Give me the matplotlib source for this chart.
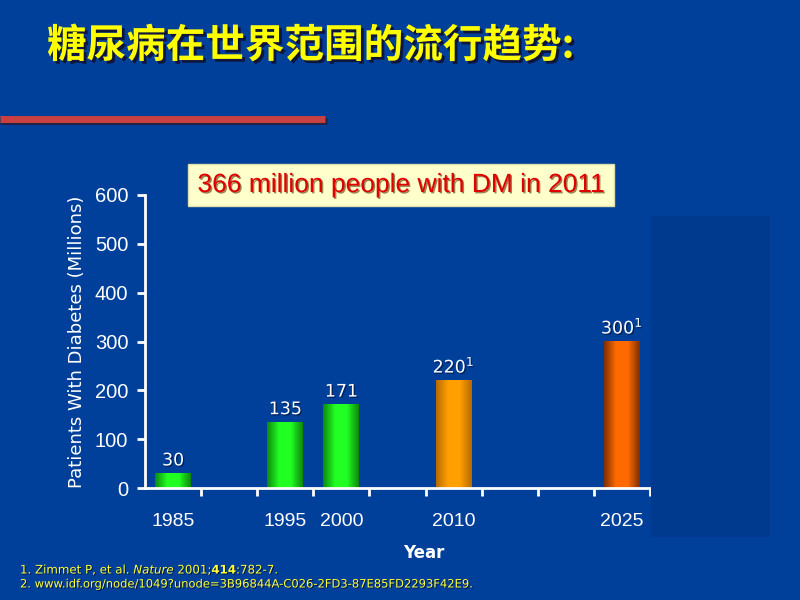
import numpy as np
import matplotlib.pyplot as plt
import matplotlib.patheffects as pe
from matplotlib.patches import Rectangle
from matplotlib.colors import LinearSegmentedColormap

# data
slot_years = [1985, 1990, 1995, 2000, 2005, 2010, 2015, 2020, 2025]
bar_years = [1985, 1995, 2000, 2010, 2025]
patients = [30, 135, 171, 220, 300]
value_labels = ['30', '135', '171', '220$^{1}$', '300$^{1}$']
bar_colors = [('#0d8a0d', '#22ff22'), ('#0d8a0d', '#22ff22'), ('#0d8a0d', '#22ff22'),
              ('#b86a00', '#ffa000'), ('#803000', '#ff6a00')]
y_ticks = [0, 100, 200, 300, 400, 500, 600]

bg = '#00409a'
fig = plt.figure(figsize=(8, 6), dpi=100, facecolor=bg)

# darker panel on the right
fig.patches.append(Rectangle((651 / 800, 1 - 537 / 600), 119 / 800, 321 / 600,
                             transform=fig.transFigure, facecolor='#003a8e', edgecolor='none', zorder=0))

# title
fig.text(47 / 800, 1 - 46 / 600, '糖尿病在世界范围的流行趋势:', color='#ffff00', fontsize=28.5,
         fontweight='bold', family=['Noto Sans CJK SC', 'DejaVu Sans'], va='center', ha='left',
         path_effects=[pe.withSimplePatchShadow(offset=(2, -2), shadow_rgbFace='#111133', alpha=0.9)])

# red divider
fig.add_artist(plt.Line2D([0, 327 / 800], [1 - 121 / 600, 1 - 121 / 600], color='#222244', lw=5,
                          transform=fig.transFigure, solid_capstyle='butt'))
fig.add_artist(plt.Line2D([0, 325 / 800], [1 - 119 / 600, 1 - 119 / 600], color='#c94040', lw=5,
                          transform=fig.transFigure, solid_capstyle='butt'))

ax = fig.add_axes([145 / 800, 1 - 488 / 600, 505 / 800, 293 / 600])
ax.set_facecolor('none')
pos = [(y - slot_years[0]) / 5 for y in bar_years]
width = 0.64
for x, v, (dark, light), lab in zip(pos, patients, bar_colors, value_labels):
    cmap = LinearSegmentedColormap.from_list('g', [dark, light, light, dark])
    grad = np.linspace(0, 1, 64).reshape(1, -1)
    ax.imshow(grad, cmap=cmap, aspect='auto', extent=(x - width / 2, x + width / 2, 0, v), zorder=2)
    ax.text(x, v + 8, lab, color='white', fontsize=12.5, ha='center', va='bottom', family='DejaVu Sans',
            path_effects=[pe.withSimplePatchShadow(offset=(1, -1), shadow_rgbFace='#001133', alpha=0.6)])

ax.set_xlim(-0.5, len(slot_years) - 0.5)
ax.set_ylim(0, 600)
ax.set_xticks(np.arange(len(slot_years)) + 0.5)
ax.set_xticklabels([])
ax.set_xticks(pos, minor=True)
ax.set_xticklabels([str(y) for y in bar_years], minor=True)
ax.tick_params(axis='x', which='minor', length=0, pad=18, labelsize=14, labelcolor='white')
ax.tick_params(axis='x', which='major', length=6, width=2, color='white', direction='out')
ax.set_yticks(y_ticks)
ax.tick_params(axis='y', length=6, width=2, color='white', labelsize=14.5, labelcolor='white', pad=6)
for lab in ax.get_xticklabels(minor=True) + ax.get_yticklabels():
    lab.set_family('Liberation Sans')
for s in ['top', 'right']:
    ax.spines[s].set_visible(False)
for s in ['left', 'bottom']:
    ax.spines[s].set_color('white')
    ax.spines[s].set_linewidth(2)

ax.set_ylabel('Patients With Diabetes (Millions)', color='white', fontsize=13, labelpad=6)
ax.set_xlabel('Year', color='white', fontsize=12, fontweight='bold')
ax.xaxis.set_label_coords((424 - 145) / 505, -0.19)

# highlight box
fig.text(401 / 800, 1 - 185 / 600, '366 million people with DM in 2011', color='#e00000', fontsize=19,
         family='Liberation Sans', ha='center', va='center',
         path_effects=[pe.withSimplePatchShadow(offset=(1, -1), shadow_rgbFace='#553300', alpha=0.6)],
         bbox=dict(boxstyle='square,pad=0.35', facecolor='#ffffcc', edgecolor='#ddddaa'))

# references
shadow = [pe.withSimplePatchShadow(offset=(0.7, -0.7), shadow_rgbFace='#000022', alpha=0.7)]
fig.text(20 / 800, 1 - 569 / 600, '1. Zimmet P, et al. $\\it{Nature}$ 2001;$\\bf{414}$:782-7.',
         color='#ffff33', fontsize=8.5, va='center', path_effects=shadow)
fig.text(20 / 800, 1 - 584 / 600, '2. www.idf.org/node/1049?unode=3B96844A-C026-2FD3-87E85FD2293F42E9.',
         color='#ffff33', fontsize=8.3, va='center', path_effects=shadow)

fig.savefig('out.png', dpi=100, facecolor=bg)
